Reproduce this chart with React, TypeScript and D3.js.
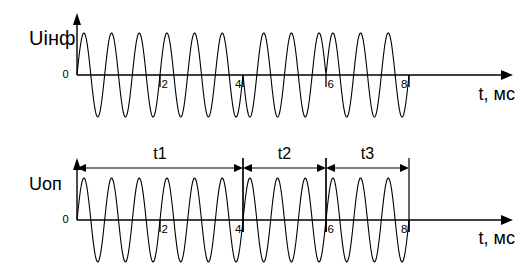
import React from "react";
import * as d3 from "d3";

// ---- data ----
const tickValues = [2, 4, 6, 8];
const carrierFreq = 1.5; // cycles per ms
const infoSegments = [
  { start: 0, end: 4, phase: 0 },
  { start: 4, end: 6, phase: Math.PI },
  { start: 6, end: 8, phase: 0 },
];
const refSegments = [{ start: 0, end: 8, phase: 0 }];
const intervals = [
  { label: "t1", start: 0, end: 4 },
  { label: "t2", start: 4, end: 6 },
  { label: "t3", start: 6, end: 8 },
];

const W = 525;
const H = 271;
const x = d3.scaleLinear().domain([0, 8]).range([77, 409]);
const axisEnd = 513;
const font = "Liberation Sans, Arial, sans-serif";

function wavePath(segs: typeof infoSegments, y: d3.ScaleLinear<number, number>) {
  const pts: [number, number][] = [];
  segs.forEach((s) => {
    const n = 400;
    for (let k = 0; k <= n; k++) {
      const t = s.start + ((s.end - s.start) * k) / n;
      pts.push([x(t), y(Math.sin(2 * Math.PI * carrierFreq * t + s.phase))]);
    }
  });
  return d3.line()(pts) || "";
}

function Panel({ y0, label, segs, labelSize, tLabelY }: any) {
  const y = d3.scaleLinear().domain([-1, 1]).range([y0 + 42, y0 - 42]);
  const zero = y(0);
  return (
    <g>
      <path d={wavePath(segs, y)} fill="none" stroke="#000" strokeWidth={1.1} />
      {/* x axis */}
      <line x1={x(0)} x2={axisEnd - 8} y1={zero} y2={zero} stroke="#000" strokeWidth={1.6} />
      <path d={`M${axisEnd},${zero} L${axisEnd - 12},${zero - 5} L${axisEnd - 12},${zero + 5} Z`} fill="#000" />
      {/* y axis */}
      <line x1={x(0)} x2={x(0)} y1={zero} y2={y0 - 55} stroke="#000" strokeWidth={1.4} />
      <path d={`M${x(0)},${y0 - 62} L${x(0) - 4},${y0 - 50} L${x(0) + 4},${y0 - 50} Z`} fill="#000" />
      {tickValues.map((v) => {
        const left = v % 4 === 0;
        return (
          <g key={v}>
            <line x1={x(v)} x2={x(v)} y1={zero} y2={zero + 12} stroke="#000" strokeWidth={1.3} />
            <text
              x={left ? x(v) - 1.5 : x(v) + 1.5}
              y={zero + 13}
              fontSize={11.5}
              fontFamily={font}
              textAnchor={left ? "end" : "start"}
            >
              {v}
            </text>
          </g>
        );
      })}
      <text x={68.5} y={zero + 3} fontSize={11} fontFamily={font} textAnchor="end">0</text>
      <text x={29} y={y0 - 30} fontSize={labelSize} fontFamily={font}>{label}</text>
      <text x={515} y={tLabelY} fontSize={18} fontFamily={font} textAnchor="end">t, мс</text>
    </g>
  );
}

export default function App() {
  const arrowY = 168;
  return (
    <svg width={W} height={H} style={{ position: "absolute", left: 0, top: 0 }}>
      <rect width={W} height={H} fill="#fff" />
      <Panel y0={75} label="Uінф" segs={infoSegments} labelSize={20} tLabelY={100} />
      <Panel y0={220} label="Uоп" segs={refSegments} labelSize={18} tLabelY={244} />
      {intervals.map((iv) => {
        const a = x(iv.start);
        const b = x(iv.end);
        return (
          <g key={iv.label}>
            {iv.start > 0 && (
              <line x1={a} x2={a} y1={158} y2={232} stroke="#000" strokeWidth={1.2} />
            )}
            <line x1={b} x2={b} y1={158} y2={232} stroke="#000" strokeWidth={1.2} />
            <line x1={a + 6} x2={b - 6} y1={arrowY} y2={arrowY} stroke="#000" strokeWidth={1.2} />
            <path d={`M${a},${arrowY} L${a + 9},${arrowY - 4} L${a + 9},${arrowY + 4} Z`} fill="#000" />
            <path d={`M${b},${arrowY} L${b - 9},${arrowY - 4} L${b - 9},${arrowY + 4} Z`} fill="#000" />
            <text x={(a + b) / 2} y={159} fontSize={16} fontFamily={font} textAnchor="middle">{iv.label}</text>
          </g>
        );
      })}
    </svg>
  );
}
